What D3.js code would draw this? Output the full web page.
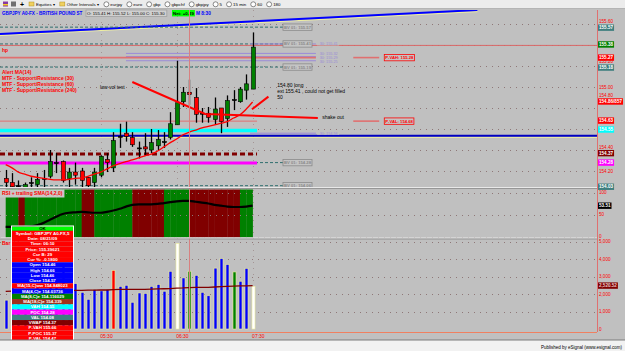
<!DOCTYPE html>
<html>
<head>
<meta charset="utf-8">
<script src="https://cdn.jsdelivr.net/npm/d3@7"></script>
<style>
body { margin: 0; background: #c0c0c0; }
svg { display: block; font-family: "Liberation Sans", Arial, sans-serif; }
</style>
</head>
<body>
<svg id="chart" width="625" height="351"></svg>
<script>
"use strict";

// ---- values (GBPJPY, 5 minute bars) ----
var firstBar = "04:15";
var barMinutes = 5;

var opens  = [154.13, 154.09, 154.06, 154.04, 154.09, 154.07, 154.13, 154.15, 154.28, 154.29,
              154.13, 154.19, 154.20, 154.14, 154.09, 154.16, 154.31, 154.23, 154.53, 154.56,
              154.52, 154.42, 154.43, 154.40, 154.44, 154.48, 154.52, 154.64, 154.86, 154.95,
              154.90, 154.75, 154.75, 154.69, 154.80, 154.70, 154.88, 154.86, 154.97, 154.98];
var highs  = [154.21, 154.18, 154.11, 154.09, 154.14, 154.18, 154.21, 154.40, 154.37, 154.30,
              154.23, 154.28, 154.23, 154.145, 154.23, 154.35, 154.37, 154.57, 154.65, 154.67,
              154.57, 154.48, 154.56, 154.60, 154.59, 154.57, 154.76, 155.25, 155.00, 155.07,
              154.99, 154.80, 154.81, 154.90, 154.80, 154.92, 154.97, 155.00, 155.12, 155.52];
var lows   = [154.00, 154.00, 154.00, 154.00, 154.00, 154.00, 154.00, 154.13, 154.18, 154.09,
              154.04, 154.07, 154.00, 154.00, 154.00, 154.14, 154.19, 154.19, 154.42, 154.48,
              154.43, 154.32, 154.35, 154.37, 154.40, 154.42, 154.50, 154.64, 154.81, 154.83,
              154.66, 154.66, 154.66, 154.64, 154.56, 154.62, 154.78, 154.85, 154.88, 154.98];
var closes = [154.09, 154.05, 154.06, 154.07, 154.09, 154.12, 154.13, 154.29, 154.28, 154.11,
              154.19, 154.16, 154.11, 154.06, 154.19, 154.34, 154.28, 154.49, 154.53, 154.53,
              154.45, 154.42, 154.41, 154.47, 154.50, 154.48, 154.65, 154.85, 154.95, 154.93,
              154.74, 154.75, 154.71, 154.79, 154.67, 154.87, 154.88, 154.98, 155.03, 155.38];
var ma14   = [154.26, 154.23, 154.19, 154.17, 154.15, 154.14, 154.13, 154.12, 154.115, 154.115,
              154.12, 154.13, 154.135, 154.15, 154.17, 154.19, 154.22, 154.25, 154.27, 154.29,
              154.305, 154.325, 154.345, 154.36, 154.39, 154.43, 154.47, 154.505, 154.545, 154.57,
              154.59, 154.61, 154.625, 154.64, 154.655, 154.67, 154.705, 154.735, 154.79, 154.857];

var rsiValues = [22, 22, 22, 22, 23, 26, 31, 38, 45, 51, 54, 55, 56, 55, 54, 54, 56, 59, 63, 68,
                 72, 73, 73, 73, 74, 76, 78, 80, 81, 81, 79, 77, 75, 72, 70, 68, 67, 67, 68, 70];
// g = rsi above its average, r = below (one per bar gap)
var rsiState = "ggrgggggggggrrggggggrrrrrggggrrrrrrrrgg".split("");

var volumes = [1650, 2400, 1900, 1300, 2200, 2500, 2300, 3100, 2800, 3600,
               2000, 2600, 2100, 1700, 2270, 2180, 2270, 3350, 2440, 2500,
               1530, 2060, 2040, 2440, 2550, 2160, 3300, 4890, 2920, 3300,
               3070, 2100, 1900, 3480, 4030, 3690, 3260, 2730, 3470, 2440];
var volKinds = "bbbbbbbbbbbbbbbbbrbbbbbbbbbwbgbbbbbbgbbw".split("");
var volMA = [2150, 2160, 2160, 2170, 2170, 2180, 2180, 2190, 2190, 2200,
             2200, 2210, 2210, 2220, 2220, 2230, 2230, 2250, 2260, 2260,
             2260, 2270, 2270, 2280, 2290, 2300, 2310, 2340, 2350, 2370,
             2380, 2380, 2380, 2400, 2420, 2440, 2450, 2460, 2470, 2480];

var timeTicks  = ["05:30", "06:30", "07:30"];
var priceTicks = [155.60, 155.40, 155.20, 155.00, 154.80, 154.60, 154.40, 154.20];
var rsiTicks   = [100, 50, 0];
var volTicks   = [5000, 4000, 3000, 2000, 1000, 0];

// level lines, start / end in bar units
var bvLevels = [155.57, 155.41, 155.19, 154.28, 154.06];
var mtf30 = [[155.41, 38.6], [155.32, 19], [155.29, 19], [155.25, 19], [154.56, 38.6]];
var cursorPrice = 155.396, cursorBar = 29;
var pvah = 155.28, pval = 154.675;
var vah = 154.586, poc = 154.276, vwap = 154.362, blueLevel = 154.536;
var channel = [[-0.9, 155.505], [74.5, 155.733]];
var trendA = [[20, 155.048], [31.5, 154.743], [49.3, 154.705]];
var trendB = [[38.9, 154.788], [41.5, 154.908]];

var notes = [["low vol test", 14.9, 155.0], ["154.80 long", 42.9, 155.02],
             ["ext 155.41 , could not get filled", 42.9, 154.962], ["50", 42.9, 154.905],
             ["shake out", 50, 154.714]];
var legends = ["Alert MA(14)", "MTF - Support/Resistance (30)", "MTF - Support/Resistance (60)",
               "MTF - Support/Resistance (240)"];

// right side price flags: value, text, kind
var priceFlags = [[155.565, "155.57", "bv"], [155.405, "155.38", "last"], [155.28, "155.27", "p"],
                  [155.185, "155.18", "bv"], [154.862, "154.86/857", "p"], [154.68, "154.63", "p"],
                  [154.595, "154.55", "vah"], [154.37, "154.37", "vwap"], [154.28, "154.28", "poc"],
                  [154.05, "154.03", "bv"]];
var rsiLast = "53.51", volMALast = "2,520.52";

var toolbarItems = ["eurjpy", "euro", "gbp", "gbpchf", "gbpjpy", "5", "15 min", "60", "180"];

var dataWindow = [["OK", "ok"],
	["Symbol: GBPJPY A0-FX,5", "red"], ["Date: 08/21/09", "red"], ["Time: 06:10", "red"],
	["Price: 155.39621", "red"], ["Cur B: 29", "red"], ["Cur %: -0.1800", "red"],
	["Open 154.46", "blue"], ["High 154.66", "blue"], ["Low 154.46", "blue"], ["Close 154.57", "blue"],
	["MA(15,C)ww 154.848023", "red"], ["MA(4,C)e 154.03736", "blue"], ["MA(8,C)e 154.116029", "green"],
	["MA(18,C)e 154.339", "brown"], ["VAH 154.55", "cyan"], ["POC 154.28", "magenta"],
	["VAL 154.08", "teal"], ["VWAP 154.37", "maroon"], ["P-VAH 155.66", "red"],
	["P-POC 155.37", "red"], ["P-VAL 154.47", "red"], ["P-VAL 154.63", "red"]];

// ---- layout ----
var W = 625, H = 351, axisX = 597;
var P = {top: 10, bottom: 187}, R = {top: 188.5, bottom: 237.5}, V = {top: 239, bottom: 332};
var colors = {bv: "#3f7f7f", last: "#008000", p: "#ff0000", vah: "#00ffff", vwap: "#800000",
	poc: "#ff00ff", ok: "#00ff00", red: "#ff0000", blue: "#0000ff", green: "#008000",
	brown: "#a0301c", cyan: "#00ffff", magenta: "#ff00ff", teal: "#3f7f7f", maroon: "#800000",
	b: "#0000ff", r: "#ff0000", w: "#ffffff", g: "#008000"};
var lavender = "#9a8ad8", salmon = "#e07070", gridColor = "#8f7878";

var x = d3.scaleLinear().domain([-0.9, 93.4]).range([0, axisX]);
var yP = d3.scaleLinear().domain([154.2, 155.0]).range([171, 87]);
var yR = d3.scaleLinear().domain([0, 100]).range([236.5, 192.5]);
var yV = d3.scaleLinear().domain([0, 5000]).range([329, 241.5]);
var parseT = d3.timeParse("%H:%M");
var t0 = parseT(firstBar);
var xT = d3.scaleTime().domain([t0, d3.timeMinute.offset(t0, barMinutes * (opens.length - 1))]).
	range([x(0), x(opens.length - 1)]);

function px(v) { return Math.round(v) + 0.5; }

var svg = d3.select("#chart");
svg.append("rect").attr("width", W).attr("height", H).attr("fill", "#c0c0c0");

// vertical time grid, behind everything
var tickDates = timeTicks.map(parseT);
svg.append("g").selectAll("line").data(tickDates).join("line").
	attr("x1", d => px(xT(d))).attr("x2", d => px(xT(d))).attr("y1", P.top).attr("y2", V.bottom).
	attr("stroke", gridColor).attr("stroke-dasharray", "1,5").attr("stroke-opacity", 0.6);

function pane(id, top, bottom) {
	svg.append("clipPath").attr("id", id).append("rect").
		attr("x", 0).attr("y", top).attr("width", axisX).attr("height", bottom - top);
	return svg.append("g").attr("clip-path", "url(#" + id + ")");
}

function dottedRows(g, ys) {
	g.append("g").selectAll("line").data(ys).join("line").
		attr("x1", 0).attr("x2", axisX).attr("y1", d => px(d)).attr("y2", d => px(d)).
		attr("stroke", gridColor).attr("stroke-dasharray", "1,5");
}

function label(g, txt, lx, ly, col, size, bold) {
	return g.append("text").attr("x", lx).attr("y", ly).attr("dy", "0.35em").
		attr("fill", col).style("font-size", size + "px").
		style("font-weight", bold ? "bold" : "normal").text(txt);
}

// text with a filled box behind it, returns box width
function boxLabel(g, txt, lx, ly, bg, fg, stroke, size) {
	var t = label(g, txt, lx + 1, ly, fg, size || 4.6, true);
	var w = t.node().getComputedTextLength() + 2;
	g.insert("rect", () => t.node()).attr("x", lx).attr("y", ly - 3.2).attr("width", w).attr("height", 6.4).
		attr("fill", bg).attr("stroke", stroke || "none").attr("stroke-width", 0.8);
	return w;
}

// ---------- price pane ----------
var gp = pane("clipP", P.top, P.bottom);
dottedRows(gp, priceTicks.map(yP));

function level(v, i0, i1, col, w, dash) {
	return gp.append("line").attr("x1", x(i0)).attr("x2", x(i1)).attr("y1", yP(v)).attr("y2", yP(v)).
		attr("stroke", col).attr("stroke-width", w).attr("stroke-dasharray", dash || null);
}

// channel line at the top
var chan = d3.line().x(d => x(d[0])).y(d => yP(d[1]));
gp.append("path").attr("d", chan(channel)).attr("transform", "translate(0,1.6)").
	attr("fill", "none").attr("stroke", "#f0f0a0").attr("stroke-width", 1);
gp.append("path").attr("d", chan(channel)).attr("fill", "none").attr("stroke", "#0000ff").attr("stroke-width", 2);

bvLevels.forEach(v => level(v, -0.9, 43.8, "#2f6f6f", 1, "3,2"));
mtf30.forEach(d => level(d[0], d[1], 49, lavender, 1));
level(pvah, -0.9, 49, salmon, 1.6);
level(pvah, 54.9, 59, salmon, 1.6);
level(pval, -0.9, 39.7, salmon, 1);
level(pval, 54.9, 59, salmon, 1.6);
level(vah, -0.9, 39.7, "#00ffff", 3.5);
level(blueLevel, -0.9, 93.4, "#f0f0a0", 1).attr("transform", "translate(0,1.6)");
level(blueLevel, -0.9, 93.4, "#0000c0", 2);
level(vwap, -0.9, 39.7, "#800000", 3, "5,3");
level(poc, -0.9, 39.7, "#ff00ff", 3);
level(cursorPrice, -0.9, 93.4, "#d86868", 1);

// candles
var bars = d3.range(opens.length);
var cg = gp.append("g").selectAll("g").data(bars).join("g");
cg.append("line").attr("x1", i => px(x(i))).attr("x2", i => px(x(i))).
	attr("y1", i => yP(highs[i])).attr("y2", i => yP(lows[i])).
	attr("stroke", "#000").attr("stroke-width", 1.3);
cg.append("rect").
	attr("x", i => Math.round(x(i)) - 1.5).attr("width", 4).
	attr("y", i => yP(Math.max(opens[i], closes[i]))).
	attr("height", i => Math.max(1, Math.abs(yP(opens[i]) - yP(closes[i])))).
	attr("fill", i => closes[i] > opens[i] ? "#008000" : (closes[i] < opens[i] ? "#ff0000" : "#000")).
	attr("stroke", "#000").attr("stroke-width", 0.6);

// moving average
gp.append("path").datum(ma14).
	attr("d", d3.line().x((d, i) => x(i)).y(d => yP(d)).curve(d3.curveMonotoneX)).
	attr("fill", "none").attr("stroke", "#ff0000").attr("stroke-width", 1.3);

// hand drawn lines
[trendA, trendB].forEach(function(pts) {
	gp.append("path").attr("d", chan(pts)).attr("fill", "none").
		attr("stroke", "#ff0000").attr("stroke-width", 2);
});

// level boxes and texts
bvLevels.forEach(function(v) {
	boxLabel(gp, "BV 01: " + v.toFixed(2), x(43.8), yP(v), "#c4c4c4", "#8a8a8a", "#8a8a8a", 4.2);
});
var lastY = -99;
mtf30.forEach(function(d) {
	var ty = Math.max(yP(d[0]), lastY + 4);
	lastY = ty;
	var t = label(gp, "30: " + d[0].toFixed(2), x(49.6), ty, lavender, 3.8, false);
	var w = t.node().getComputedTextLength();
	gp.insert("rect", () => t.node()).attr("x", x(49.2)).attr("y", yP(d[0]) - 1.5).
		attr("width", w + 4).attr("height", 3).attr("fill", "#c0c0c0");
});
boxLabel(gp, "P-VAH: " + pvah.toFixed(2), x(59.8), yP(pvah), "#c4c4c4", "#ff0000", "#ff0000", 4.2);
boxLabel(gp, "P-VAL: " + pval.toFixed(2), x(59.8), yP(pval), "#c4c4c4", "#ff0000", "#ff0000", 4.2);

notes.forEach(d => label(gp, d[0], x(d[1]), yP(d[2]), "#000", 5, false));
legends.forEach((d, i) => label(gp, d, 2, 72.7 + i * 5.8, "#ff0000", 5, true));
label(gp, "hp", 2, 50, "#ff0000", 5, true);

// title row
label(svg, "GBPJPY A0-FX - BRITISH POUND ST", 2, 13.2, "#0000ff", 4.6, true);
var ohlc = svg.append("g");
boxLabel(ohlc, "O: 155.41    H: 155.52    L: 155.00    C: 155.30", 86, 13.2, "#d0d0d0", "#000", "#a0a0a0", 4.3);
ohlc.selectAll("text").style("font-weight", "normal");
var nw = boxLabel(svg, "Net: +0.29", 172, 13.2, "#00ff00", "#000", null, 4.4);
label(svg, "M 8:30", 173 + nw, 13.2, "#0000ff", 4.8, true);

// ---------- rsi pane ----------
var gr = pane("clipR", R.top, R.bottom);
gr.append("g").selectAll("rect").data(rsiState).join("rect").
	attr("x", (d, i) => x(i)).attr("width", (d, i) => x(i + 1) - x(i) + 0.3).
	attr("y", R.top + 1).attr("height", yR(0) - R.top).
	attr("fill", d => d === "g" ? "#008000" : "#800000");
dottedRows(gr, rsiTicks.map(yR));
gr.append("path").datum(rsiValues).
	attr("d", d3.line().x((d, i) => x(i)).y(d => yR(d)).curve(d3.curveMonotoneX)).
	attr("fill", "none").attr("stroke", "#000").attr("stroke-width", 2.2);
var rl = label(svg, "RSI + trailing SMA(14,2,0)", 2, 193, "#ff0000", 5, true);
svg.insert("rect", () => rl.node()).attr("x", 0).attr("y", R.top + 1).
	attr("width", rl.node().getComputedTextLength() + 4).attr("height", 8).attr("fill", "#c8c8c8");

// ---------- volume pane ----------
var gv = pane("clipV", V.top, V.bottom);
dottedRows(gv, volTicks.slice(0, -1).map(yV));
gv.append("g").selectAll("rect").data(volumes).join("rect").
	attr("x", (d, i) => Math.round(x(i)) - 1).attr("width", 3).
	attr("y", d => yV(d)).attr("height", d => yV(0) - yV(d)).
	attr("fill", (d, i) => colors[volKinds[i]]).
	attr("stroke", "#eeee9a").attr("stroke-width", 0.6);
gv.append("path").datum(volMA).
	attr("d", d3.line().x((d, i) => x(i)).y(d => yV(d))).
	attr("fill", "none").attr("stroke", "#800000").attr("stroke-width", 1.3);
label(svg, "Bar Volume", 2, 243, "#ff0000", 5, true);

// cursor
svg.append("line").attr("x1", px(x(cursorBar))).attr("x2", px(x(cursorBar))).
	attr("y1", P.top).attr("y2", V.bottom).attr("stroke", "#d88080").attr("stroke-width", 1);

// pane separators
[P.bottom + 0.5, R.bottom + 0.5].forEach(function(y) {
	svg.append("line").attr("x1", 0).attr("x2", axisX).attr("y1", y).attr("y2", y).
		attr("stroke", "#e8e8e8").attr("stroke-width", 1.2);
	svg.append("line").attr("x1", 0).attr("x2", axisX).attr("y1", y + 1).attr("y2", y + 1).
		attr("stroke", "#8c8c8c").attr("stroke-width", 0.8);
});
svg.append("line").attr("x1", 0).attr("x2", axisX).attr("y1", V.bottom + 0.5).attr("y2", V.bottom + 0.5).
	attr("stroke", "#f08060");
svg.append("line").attr("x1", axisX + 0.5).attr("x2", axisX + 0.5).attr("y1", P.top).attr("y2", V.bottom).
	attr("stroke", salmon);

// ---------- axes ----------
function rightAxis(scale, ticks, fmt) {
	var g = svg.append("g").attr("transform", "translate(" + (axisX + 1) + ",0)").
		call(d3.axisRight(scale).tickValues(ticks).tickFormat(fmt).tickSize(0).tickPadding(1));
	g.select(".domain").remove();
	g.attr("font-size", 4.6).attr("font-family", null);
	g.selectAll("text").attr("fill", "#ff0000");
	return g;
}

// price tick labels give way to the flags the way eSignal does
var flagYs = priceFlags.map(d => yP(d[0]));
var pa = rightAxis(yP, priceTicks, d3.format(".2f"));
pa.selectAll(".tick").each(function(v) {
	var ty = yP(v);
	var near = flagYs.filter(fy => Math.abs(fy - ty) < 6.6);
	if (!near.length) return;
	if (Math.abs(near[0] - ty) < 1) d3.select(this).remove();
	else d3.select(this).select("text").attr("y", d3.min(near) - 6.6 - ty);
});
rightAxis(yR, rsiTicks, d3.format("d"));
rightAxis(yV, volTicks, d3.format(","));

priceFlags.forEach(function(d) {
	boxLabel(svg, d[1], axisX + 1, yP(d[0]), colors[d[2]], "#fff");
});
boxLabel(svg, rsiLast, axisX + 1, yR(rsiValues[rsiValues.length - 1]), "#000", "#fff");
boxLabel(svg, volMALast, axisX + 1, yV(volMA[volMA.length - 1]), "#800000", "#e8c8c8");

var xa = svg.append("g").attr("transform", "translate(0," + (V.bottom + 1) + ")").
	call(d3.axisBottom(xT).tickValues(tickDates).tickFormat(d3.timeFormat("%H:%M")).tickSize(0).tickPadding(1));
xa.select(".domain").remove();
xa.attr("font-size", 5).attr("font-family", null);
xa.selectAll("text").attr("fill", "#ff0000").attr("text-anchor", "start").attr("dx", -1);

// ---------- data window ----------
var dw = svg.append("g");
var rowY = 226.5;
dataWindow.forEach(function(d, i) {
	var h = i === 0 ? 4.3 : 5.25;
	dw.append("rect").attr("x", 12).attr("y", rowY).attr("width", 61).attr("height", h).
		attr("fill", colors[d[1]]);
	dw.append("text").attr("x", 42.5).attr("y", rowY + h / 2).attr("dy", "0.35em").
		attr("text-anchor", "middle").attr("fill", i === 0 ? "#000" : "#fff").
		style("font-size", "4.4px").style("font-weight", "bold").text(d[0]);
	rowY += h;
});
dw.append("rect").attr("x", 11.5).attr("y", 226).attr("width", 62).attr("height", 130).
	attr("fill", "none").attr("stroke", "#fff").attr("stroke-width", 1);

// ---------- toolbar and status bar ----------
svg.append("rect").attr("width", W).attr("height", 8.5).attr("fill", "#ececec");
svg.append("line").attr("x1", 0).attr("x2", W).attr("y1", 8.5).attr("y2", 8.5).attr("stroke", "#b4b4b4");
svg.append("rect").attr("x", 3).attr("y", 1.5).attr("width", 5).attr("height", 5).attr("fill", "#8a3aa0");
svg.append("rect").attr("x", 3).attr("y", 4).attr("width", 5).attr("height", 1.5).attr("fill", "#f0d020");
svg.append("rect").attr("x", 11).attr("y", 1.5).attr("width", 5).attr("height", 5).attr("fill", "#707070");
label(svg, "+", 20, 4.3, "#000", 7, true);
var tx = 29;
["Equities", "Other Intervals"].forEach(function(d) {
	svg.append("rect").attr("x", tx).attr("y", 2).attr("width", 5).attr("height", 4).
		attr("fill", "#f0d060").attr("stroke", "#b09020").attr("stroke-width", 0.5);
	var t = label(svg, d + "  \u25be", tx + 7, 4.3, "#000", 4.4, false);
	tx += t.node().getComputedTextLength() + 12;
});
toolbarItems.forEach(function(d) {
	svg.append("circle").attr("cx", tx + 2.5).attr("cy", 4.3).attr("r", 2.5).
		attr("fill", "#fff").attr("stroke", "#404040").attr("stroke-width", 0.6);
	var t = label(svg, d, tx + 6.5, 4.3, "#000", 4.4, false);
	tx += t.node().getComputedTextLength() + 11;
});

svg.append("rect").attr("y", 340).attr("width", W).attr("height", 11).attr("fill", "#f2f2f2");
svg.append("line").attr("x1", 0).attr("x2", W).attr("y1", 340).attr("y2", 340).attr("stroke", "#7c7c7c");
label(svg, "Published by eSignal (www.esignal.com)", 622, 347.5, "#000", 4.5, false).
	attr("text-anchor", "end");
</script>
</body>
</html>
